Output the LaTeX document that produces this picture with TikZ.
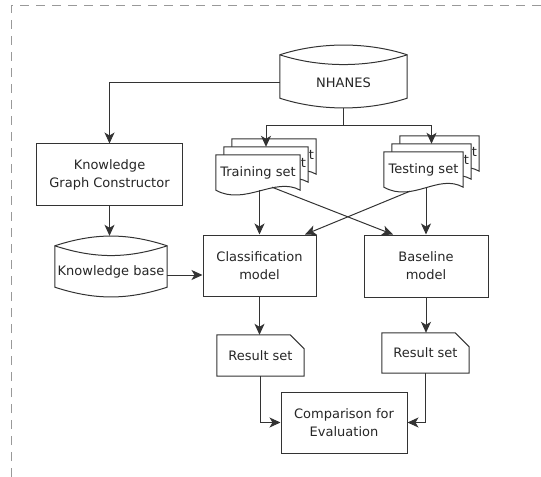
\documentclass[tikz,border=0pt]{standalone}
\usepackage{fontspec}
\setmainfont{DejaVu Sans}
\usetikzlibrary{arrows.meta}

% stored data outline round node #1
\newcommand\storepath[1]{%
  \draw [outline] ([yshift=-10bp]#1.north west)
    .. controls +(40,-13) and +(-40,-13) .. ([yshift=-10bp]#1.north east)
    -- ([yshift=10bp]#1.south east)
    .. controls +(-40,13) and +(40,13) .. ([yshift=10bp]#1.south west)
    -- cycle;
  \draw [outline] ([yshift=-10bp]#1.north west)
    .. controls +(40,13) and +(-40,13) .. ([yshift=-10bp]#1.north east);
}
% note outline with cut corner
\newcommand\notepath[1]{%
  \draw [outline] (#1.north west) -- ([xshift=-14bp]#1.north east)
    -- ([yshift=-14bp]#1.north east) -- (#1.south east) -- (#1.south west) -- cycle;
}
% document: name, position, width
\newcommand\docnode[3]{%
  \node [docbox, minimum width=#3] (#1) at (#2) {};
  \draw [outline, fill=white] (#1.north west) -- (#1.north east) -- (#1.south east)
    .. controls +(-25,-14) and +(29,16) .. (#1.south west) -- cycle;
}

\begin{document}
\begin{tikzpicture}[x=1bp, y=-1bp]
\tikzset{ >={Stealth[length=11bp,width=10bp,inset=3bp]},
  every node/.style={font=\fontsize{13bp}{18bp}\selectfont, text=black!85},
  outline/.style={draw=black!80, line width=1bp},
  txt/.style={inner sep=0pt},
  box/.style={outline, rectangle, align=center, inner sep=0pt},
  store/.style={rectangle, inner sep=0pt},
  docbox/.style={rectangle, inner sep=0pt, minimum height=35bp},
  notebox/.style={rectangle, inner sep=0pt},
  arrow/.style={outline, ->},
}
\useasboundingbox (0,0) rectangle (541,477);
\draw [gray!80, line width=1bp, dash pattern=on 9bp off 7bp] (11,477) -- (11,6) -- (541,6);

\node [store, minimum width=127bp, minimum height=63bp] (NH) at (343.5,76.5) {};
\storepath{NH}
\node [txt] (NHt) at ([yshift=-6.5bp]NH.center) {NHANES};

\node [box, minimum width=145bp, minimum height=61bp] (KGC) at (109.5,174.5) {Knowledge\\Graph Constructor};

\node [store, minimum width=112bp, minimum height=61bp] (KB) at (111,266.5) {};
\storepath{KB}
\node [txt] (KBt) at ([yshift=-5.5bp]KB.center) {Knowledge base};

\docnode{TR3}{274,156.5}{84bp}
\node [txt, anchor=east] (TR3t) at ([xshift=-2bp,yshift=1.5bp]TR3.east) {t};
\docnode{TR2}{266,164.5}{84bp}
\node [txt, anchor=east] (TR2t) at ([xshift=-2bp,yshift=1.5bp]TR2.east) {t};
\docnode{TR}{258,172.5}{84bp}
\node [txt] (TRt) at (TR) {Training set};

\docnode{TE3}{439.5,153.5}{79bp}
\node [txt, anchor=east] (TE3t) at ([xshift=-2bp,yshift=1.5bp]TE3.east) {t};
\docnode{TE2}{431.5,161.5}{79bp}
\node [txt, anchor=east] (TE2t) at ([xshift=-2bp,yshift=1.5bp]TE2.east) {t};
\docnode{TE}{423.5,169.5}{79bp}
\node [txt] (TEt) at (TE) {Testing set};

\node [box, minimum width=113bp, minimum height=61bp] (CM) at (259.5,265.5) {Classification\\model};
\node [box, minimum width=124bp, minimum height=62bp] (BL) at (426,266) {Baseline\\model};

\node [notebox, minimum width=87bp, minimum height=41bp] (RS1) at (260.5,355.5) {Result set};
\notepath{RS1}
\node [notebox, minimum width=87bp, minimum height=40bp] (RS2) at (425.5,353) {Result set};
\notepath{RS2}

\node [box, minimum width=126bp, minimum height=61bp] (CE) at (344,422.5) {Comparison for\\Evaluation};

\draw [arrow] ([yshift=-6.5bp]NH.west) -| (KGC.north);
\draw [outline] (NH.south) -- ++(0,17) coordinate (split);
\draw [arrow] (split) -| (TR2.north);
\draw [arrow] (split) -| (TE2.north);

\draw [arrow] (KGC.south) -- (KGC.south |- KB.north);
\draw [arrow] ([yshift=-8.5bp]KB.east) -- ([yshift=-8.5bp]KB.east -| CM.west);

\draw [arrow] (CM.north |- TR.south) -- (CM.north);
\draw [arrow] ([xshift=14bp,yshift=3bp]TR.south) -- ([xshift=-33bp]BL.north);
\draw [arrow] ([xshift=-13.5bp,yshift=-4bp]TE.south) -- ([xshift=45.5bp]CM.north);
\draw [arrow] (BL.north |- TE.south) -- (BL.north);

\draw [arrow] (CM.south) -- (CM.south |- RS1.north);
\draw [arrow] (BL.south) -- (BL.south |- RS2.north);
\draw [arrow] (RS1.south) |- (CE.west);
\draw [arrow] (RS2.south) |- (CE.east);

\end{tikzpicture}
\end{document}
